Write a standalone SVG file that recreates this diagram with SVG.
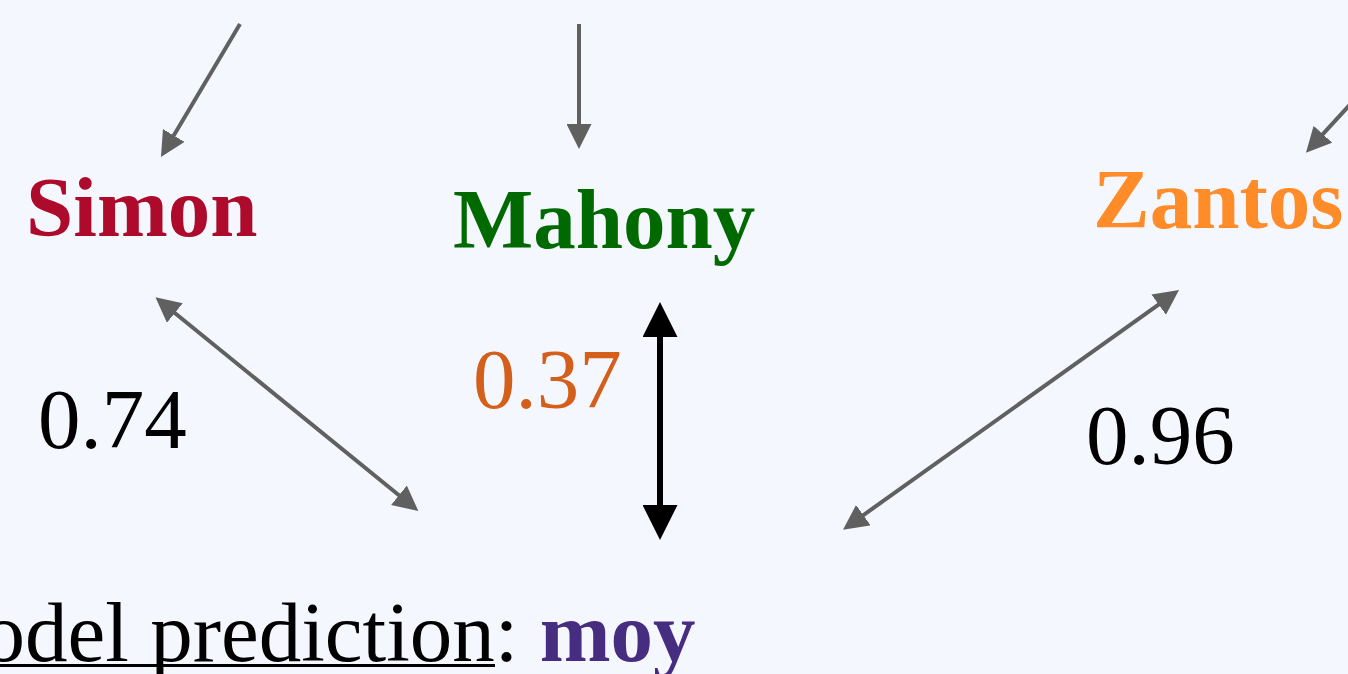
<svg xmlns="http://www.w3.org/2000/svg" width="1348" height="674" viewBox="0 0 1348 674">
<defs>
<style>
.lbl{font-family:"Liberation Serif","Times New Roman",serif;font-size:85px}
.bold{font-weight:bold}
.gray{stroke:#606060;stroke-width:4;fill:none}
.blk{stroke:#000;stroke-width:6;fill:none}
</style>
<marker id="ag" markerUnits="userSpaceOnUse" markerWidth="25" markerHeight="25" refX="2" refY="12.5" orient="auto-start-reverse" viewBox="0 0 25 25">
<path d="M0,0 L25,12.5 L0,25 z" fill="#606060"/>
</marker>
<marker id="ab" markerUnits="userSpaceOnUse" markerWidth="35" markerHeight="35" refX="2" refY="17.5" orient="auto-start-reverse" viewBox="0 0 35 35">
<path d="M0,0 L35,17.5 L0,35 z" fill="#000"/>
</marker>
</defs>
<rect x="0" y="0" width="1348" height="674" fill="#f4f7fe"/>
<g id="connectors">
<line class="gray" x1="240" y1="24" x2="172.7" y2="137.2" marker-end="url(#ag)"/>
<line class="gray" x1="579" y1="24" x2="579" y2="126" marker-end="url(#ag)"/>
<line class="gray" x1="1360" y1="93.7" x2="1321.5" y2="135.7" marker-end="url(#ag)"/>
<line class="gray" x1="173.3" y1="311.8" x2="400.5" y2="496.5" marker-start="url(#ag)" marker-end="url(#ag)"/>
<line class="blk" x1="660" y1="335" x2="660" y2="507" marker-start="url(#ab)" marker-end="url(#ab)"/>
<line class="gray" x1="861.7" y1="516.3" x2="1160.3" y2="303.4" marker-start="url(#ag)" marker-end="url(#ag)"/>
</g>
<g id="simon"><text class="lbl bold" x="26" y="236" fill="#ae0a2c">Simon</text></g>
<g id="mahony"><text class="lbl bold" x="453" y="248" fill="#006a00">Mahony</text></g>
<g id="zantos"><text class="lbl bold" x="1093" y="228" fill="#ff8c28">Zantos</text></g>
<g id="w-simon"><text class="lbl" x="38" y="448" fill="#000">0.74</text></g>
<g id="w-mahony"><text class="lbl" x="473" y="408" fill="#d35f1b">0.37</text></g>
<g id="w-zantos"><text class="lbl" x="1086" y="464" fill="#000">0.96</text></g>
<g id="prediction">
<text class="lbl" x="-93" y="661" fill="#000">Model prediction: <tspan class="bold" fill="#472d80">moy</tspan></text>
<line x1="0" y1="665.5" x2="495" y2="665.5" stroke="#000" stroke-width="3"/>
</g>
</svg>
